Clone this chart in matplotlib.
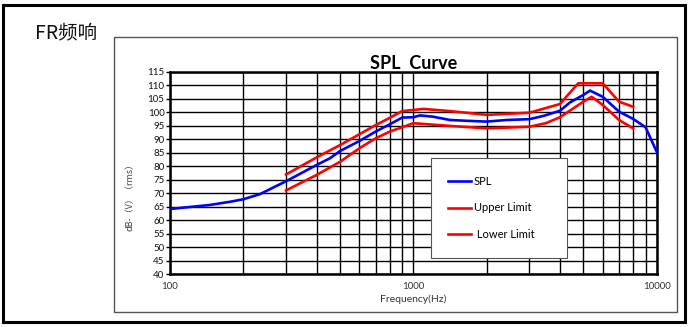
import matplotlib
matplotlib.use("Agg")
import matplotlib.pyplot as plt
from matplotlib.patches import Rectangle
from matplotlib.ticker import FixedLocator, NullFormatter

# Frequency response data
spl_freq = [100, 146, 177, 200, 234, 300, 400, 454, 500, 600, 700, 800, 900, 1000,
            1065, 1208, 1414, 1656, 2000, 2420, 3000, 3420, 4000, 4400, 5000, 5320,
            6000, 7000, 8000, 9000, 10000]
spl_db = [64.1, 65.6, 66.8, 67.7, 69.6, 74.4, 80.4, 82.9, 85.6, 89.3, 92.8, 95.5, 98.0, 98.1,
          98.8, 98.3, 97.1, 96.8, 96.5, 97.1, 97.4, 98.6, 100.5, 103.6, 106.4, 108.0,
          105.7, 100.2, 97.5, 94.4, 85.3]

upper_freq = [300, 400, 500, 600, 700, 800, 900, 1000, 1100, 1414, 2000, 3000, 4000,
              4760, 6000, 7000, 8000]
upper_db = [76.9, 83.2, 87.8, 91.8, 95.2, 97.9, 100.4, 100.8, 101.2, 100.4, 99.0, 99.8, 103.0,
            110.7, 110.7, 103.9, 102.0]

lower_freq = [300, 400, 500, 600, 700, 800, 900, 1000, 1414, 2000, 3000, 3500, 4000,
              5000, 5400, 6000, 7000, 8000]
lower_db = [71.0, 76.7, 81.6, 86.6, 90.3, 92.8, 94.4, 95.9, 94.9, 94.0, 94.6, 95.9, 98.1,
            103.9, 105.7, 102.7, 97.1, 94.0]

y_ticks = list(range(40, 116, 5))
x_labels = [100, 1000, 10000]

W, H = 689, 327
fig = plt.figure(figsize=(W / 100, H / 100), dpi=100)

def px(x0, y0, x1, y1):
    # pixel box -> figure fraction [left, bottom, width, height]
    return [x0 / W, 1 - y1 / H, (x1 - x0) / W, (y1 - y0) / H]

# outer black frame and inner grey frame
fig.patches.append(Rectangle((3 / W, 5 / H), 682 / W, 317 / H, transform=fig.transFigure,
                             fill=False, edgecolor="black", linewidth=2.2))
fig.patches.append(Rectangle((113.5 / W, 1 - 311.5 / H), 563 / W, 274.5 / H,
                             transform=fig.transFigure, fill=False,
                             edgecolor="#555555", linewidth=1.0))

fig.text(35 / W, 1 - 33 / H, "FR频响", fontsize=14, family=["Noto Sans CJK SC", "DejaVu Sans"],
         va="center", ha="left", color="#111111")

ax = fig.add_axes(px(170, 71.7, 656.7, 274))
ax.set_xscale("log")
ax.set_xlim(100, 10000)
ax.set_ylim(40, 115)

ax.plot(spl_freq, spl_db, color="#0000ff", linewidth=1.9, label="SPL", zorder=4)
ax.plot(upper_freq, upper_db, color="#ff0000", linewidth=1.9, label="Upper Limit", zorder=3)
ax.plot(lower_freq, lower_db, color="#ff0000", linewidth=1.9, label=" Lower Limit", zorder=3)

# grid
grid_x = [m * 10 ** e for e in (2, 3) for m in range(1, 10)] + [10000]
ax.xaxis.set_major_locator(FixedLocator(x_labels))
ax.xaxis.set_minor_locator(FixedLocator(grid_x))
ax.xaxis.set_minor_formatter(NullFormatter())
ax.set_xticklabels([str(v) for v in x_labels])
ax.set_yticks(y_ticks)
ax.grid(True, which="both", axis="x", color="black", linewidth=1.0)
ax.grid(True, which="major", axis="y", color="black", linewidth=1.0)
ax.set_axisbelow(True)

for s in ax.spines.values():
    s.set_linewidth(1.8)

ax.tick_params(axis="y", length=3, width=1, pad=1, labelsize=7, direction="out")
ax.tick_params(axis="x", which="both", length=0, pad=6, labelsize=7, colors="#333333")
for lab in ax.get_xticklabels() + ax.get_yticklabels():
    lab.set_family(["Lato", "DejaVu Sans"])
for lab in ax.get_yticklabels():
    lab.set_color("#111111")

ax.set_title("SPL  Curve", fontsize=13, fontweight="bold", family=["Lato", "DejaVu Sans"], pad=2)
ax.set_xlabel("Frequency(Hz)", fontsize=7.5, family=["Lato", "DejaVu Sans"], labelpad=2,
              color="#333333")
fig.text(130 / W, 1 - 195 / H, "dB-（V）（rms）", rotation=90, fontsize=6.5,
         family=["Noto Sans CJK SC", "DejaVu Sans"], color="#444444", ha="center", va="center")

# legend box stretched to the reference width
leg = ax.legend(loc="upper left",
                bbox_to_anchor=(430.7 / W, 1 - 252.7 / H, 136 / W, 94.4 / H),
                bbox_transform=fig.transFigure, mode="expand", labelspacing=1.38,
                handlelength=2.0, handletextpad=0.3, borderpad=1.6, borderaxespad=0,
                fancybox=False, framealpha=1, edgecolor="#555555",
                prop={"family": ["Lato", "DejaVu Sans"], "size": 8})
leg.get_frame().set_linewidth(0.8)

fig.savefig("out.png", dpi=100)
